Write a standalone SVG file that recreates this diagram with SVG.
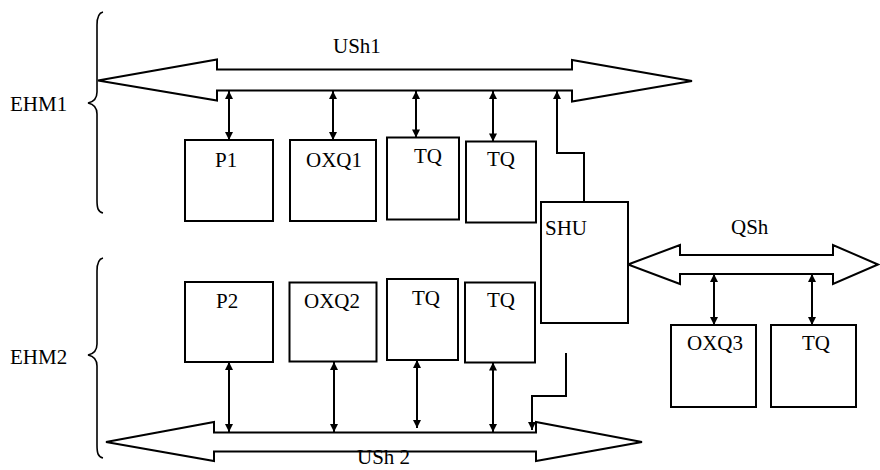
<svg xmlns="http://www.w3.org/2000/svg" width="880" height="470" viewBox="0 0 880 470">
<style>
  .box { fill: #fff; stroke: #000; stroke-width: 2; }
  .bus { fill: #fff; stroke: #000; stroke-width: 2; stroke-linejoin: miter; }
  .lbl { font-family: "Liberation Serif", "DejaVu Serif", "Times New Roman", serif; font-size: 21px; fill: #000; }
  .conn { fill: none; stroke: #000; stroke-width: 2; }
  .brace { fill: none; stroke: #000; stroke-width: 1.6; }
</style>
<defs>
  <marker id="ah" viewBox="0 0 10 10" refX="10" refY="5" markerWidth="11" markerHeight="8" markerUnits="userSpaceOnUse" orient="auto-start-reverse">
    <path d="M0,0 L10,5 L0,10 z" fill="#000"/>
  </marker>
</defs>
<rect width="880" height="470" fill="#fff"/>

<g id="braces">
  <path class="brace" d="M103,12 C98,13 97,18 97,25 L97,92 C97,99 93,102 88,103 C93,104 97,107 97,114 L97,200 C97,208 98,212 103,213"/>
  <path class="brace" d="M103,258 C98,259 97,264 97,271 L97,344 C97,351 93,354 88,355 C93,356 97,359 97,366 L97,445 C97,453 98,457 103,458"/>
  <text class="lbl" font-family="Liberation Serif, serif" x="10" y="111">EHM1</text>
  <text class="lbl" font-family="Liberation Serif, serif" x="10" y="364">EHM2</text>
</g>

<g id="bus-USh1">
  <polygon class="bus" points="98,80.5 217,59.5 217,69.5 572,69.5 572,60 692,81 572,101.5 572,90.5 217,90.5 217,100.5"/>
  <text class="lbl" font-family="Liberation Serif, serif" x="333" y="53">USh1</text>
</g>
<g id="bus-USh2">
  <polygon class="bus" points="106,442 214,422 214,432.5 536,432.5 536,422 642,442 536,461 536,451.5 214,451.5 214,461"/>
  <text class="lbl" font-family="Liberation Serif, serif" x="357" y="464">USh 2</text>
</g>
<g id="bus-QSh">
  <polygon class="bus" points="628,264.5 680,245 680,255 833,255 833,245 878,264.5 833,284 833,274 680,274 680,284"/>
  <text class="lbl" font-family="Liberation Serif, serif" x="731" y="234">QSh</text>
</g>

<g id="node-P1"><rect class="box" x="185" y="140" width="88" height="81"/><text class="lbl" font-family="Liberation Serif, serif" x="215" y="167">P1</text></g>
<g id="node-OXQ1"><rect class="box" x="290" y="140" width="86" height="81"/><text class="lbl" font-family="Liberation Serif, serif" x="306" y="167">OXQ1</text></g>
<g id="node-TQ1a"><rect class="box" x="387" y="137.5" width="72" height="82"/><text class="lbl" font-family="Liberation Serif, serif" x="414" y="163">TQ</text></g>
<g id="node-TQ1b"><rect class="box" x="466" y="141.5" width="70" height="81"/><text class="lbl" font-family="Liberation Serif, serif" x="487" y="166">TQ</text></g>
<g id="node-SHU"><rect class="box" x="541" y="202" width="87" height="121"/><text class="lbl" font-family="Liberation Serif, serif" x="545" y="235">SHU</text></g>
<g id="node-P2"><rect class="box" x="185" y="282" width="88" height="80"/><text class="lbl" font-family="Liberation Serif, serif" x="216" y="308">P2</text></g>
<g id="node-OXQ2"><rect class="box" x="289.5" y="282.5" width="87" height="79"/><text class="lbl" font-family="Liberation Serif, serif" x="304" y="308">OXQ2</text></g>
<g id="node-TQ2a"><rect class="box" x="387" y="279" width="71" height="81"/><text class="lbl" font-family="Liberation Serif, serif" x="412" y="305">TQ</text></g>
<g id="node-TQ2b"><rect class="box" x="465" y="282.5" width="70" height="80"/><text class="lbl" font-family="Liberation Serif, serif" x="487" y="307">TQ</text></g>
<g id="node-OXQ3"><rect class="box" x="671" y="325" width="85" height="82"/><text class="lbl" font-family="Liberation Serif, serif" x="687" y="350">OXQ3</text></g>
<g id="node-TQ3"><rect class="box" x="771" y="325" width="85" height="82"/><text class="lbl" font-family="Liberation Serif, serif" x="802" y="350">TQ</text></g>

<g id="connectors">
  <line class="conn" x1="229" y1="91" x2="229" y2="140" marker-start="url(#ah)" marker-end="url(#ah)"/>
  <line class="conn" x1="333" y1="91" x2="333" y2="140" marker-start="url(#ah)" marker-end="url(#ah)"/>
  <line class="conn" x1="416" y1="91" x2="416" y2="137.5" marker-start="url(#ah)" marker-end="url(#ah)"/>
  <line class="conn" x1="493" y1="91" x2="493" y2="141.5" marker-start="url(#ah)" marker-end="url(#ah)"/>
  <polyline class="conn" points="584,202 584,153 557,153 557,91" marker-end="url(#ah)"/>

  <line class="conn" x1="229" y1="362" x2="229" y2="432" marker-start="url(#ah)" marker-end="url(#ah)"/>
  <line class="conn" x1="334" y1="362" x2="334" y2="432" marker-start="url(#ah)" marker-end="url(#ah)"/>
  <line class="conn" x1="417" y1="360" x2="417" y2="428" marker-start="url(#ah)" marker-end="url(#ah)"/>
  <line class="conn" x1="493" y1="362.5" x2="493" y2="432" marker-start="url(#ah)" marker-end="url(#ah)"/>
  <polyline class="conn" points="566,353 566,396 532,396 532,430" marker-end="url(#ah)"/>

  <line class="conn" x1="714" y1="274" x2="714" y2="325" marker-start="url(#ah)" marker-end="url(#ah)"/>
  <line class="conn" x1="812" y1="274" x2="812" y2="325" marker-start="url(#ah)" marker-end="url(#ah)"/>
</g>
</svg>
